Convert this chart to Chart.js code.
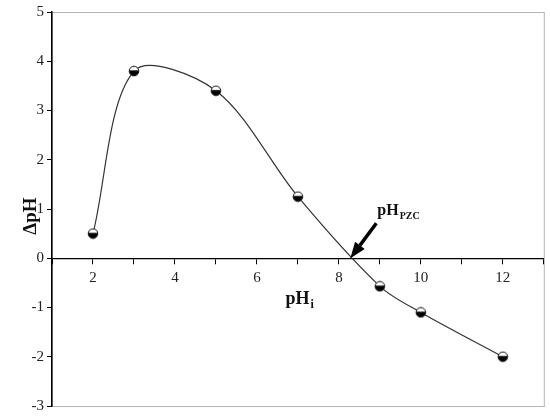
<!DOCTYPE html>
<html>
<head>
<meta charset="utf-8">
<script src="https://cdn.jsdelivr.net/npm/chart.js@4"></script>
<style>
  html, body { margin: 0; padding: 0; background: #fff; }
  #wrap { width: 550px; height: 418px; position: relative; }
</style>
</head>
<body>
<div id="wrap"><canvas id="chart" width="550" height="418"></canvas></div>
<script>
/* initial pH vs delta pH (point of zero charge plot) */
const phInitial = [2, 3, 5, 7, 9, 10, 12];
const deltaPh = [0.5, 3.8, 3.4, 1.25, -0.57, -1.1, -2.0];
const xTicks = [2, 4, 6, 8, 10, 12];
const yTicks = [-3, -2, -1, 0, 1, 2, 3, 4, 5];
const pzcValue = 8.28;

const FONT = "'Liberation Serif', 'Times New Roman', serif";

// half-filled marker (white top, black bottom)
function makeMarker() {
  const c = document.createElement('canvas');
  c.width = 12; c.height = 12;
  const g = c.getContext('2d');
  const r = 4.8, cx = 6, cy = 6;
  g.beginPath(); g.arc(cx, cy, r, 0, Math.PI * 2); g.fillStyle = '#fff'; g.fill();
  g.beginPath(); g.arc(cx, cy, r, -0.15, Math.PI + 0.15); g.closePath(); g.fillStyle = '#000'; g.fill();
  g.beginPath(); g.arc(cx, cy, r, 0, Math.PI * 2); g.lineWidth = 1; g.strokeStyle = '#111'; g.stroke();
  return c;
}

// frame + axis titles + pzc arrow
const decorPlugin = {
  id: 'decor',
  beforeDraw(chart) {
    const { ctx, chartArea: a } = chart;
    ctx.save();
    ctx.strokeStyle = '#b4b4b4';
    ctx.lineWidth = 1;
    ctx.strokeRect(a.left + 0.5, a.top + 0.5, a.right - a.left, a.bottom - a.top);
    ctx.restore();
  },
  afterDraw(chart) {
    const { ctx, scales } = chart;
    ctx.save();
    ctx.fillStyle = '#111';
    // y title
    ctx.translate(31, 216);
    ctx.rotate(-Math.PI / 2);
    ctx.font = `bold 19px ${FONT}`;
    ctx.textAlign = 'center';
    ctx.textBaseline = 'middle';
    ctx.fillText('ΔpH', 0, 0);
    ctx.restore();

    // x title pH_i
    ctx.save();
    ctx.fillStyle = '#111';
    ctx.textBaseline = 'alphabetic';
    ctx.font = `bold 18px ${FONT}`;
    const w = ctx.measureText('pH').width;
    const x0 = 300 - (w + 5) / 2;
    ctx.fillText('pH', x0, 304);
    ctx.font = `bold 12px ${FONT}`;
    ctx.fillText('i', x0 + w + 1, 308);

    // pzc label and arrow
    const tipX = scales.x.getPixelForValue(pzcValue);
    const tipY = scales.y.getPixelForValue(0);
    const tailX = tipX + 26, tailY = tipY - 35;
    ctx.font = `bold 16px ${FONT}`;
    ctx.fillText('pH', tipX + 27, tipY - 43);
    const w2 = ctx.measureText('pH').width;
    ctx.font = `bold 10px ${FONT}`;
    ctx.fillText('PZC', tipX + 27 + w2 + 1, tipY - 39);

    const ang = Math.atan2(tipY - tailY, tipX - tailX);
    const headLen = 16, headW = 6;
    const bx = tipX - headLen * Math.cos(ang), by = tipY - headLen * Math.sin(ang);
    ctx.strokeStyle = '#000';
    ctx.lineWidth = 3.5;
    ctx.beginPath(); ctx.moveTo(tailX, tailY); ctx.lineTo(bx, by); ctx.stroke();
    ctx.fillStyle = '#000';
    ctx.beginPath();
    ctx.moveTo(tipX, tipY);
    ctx.lineTo(bx + headW * Math.sin(ang), by - headW * Math.cos(ang));
    ctx.lineTo(bx - headW * Math.sin(ang), by + headW * Math.cos(ang));
    ctx.closePath(); ctx.fill();
    ctx.restore();
  }
};

document.addEventListener('DOMContentLoaded', () => {
  const marker = makeMarker();
  const ctx = document.getElementById('chart').getContext('2d');

  new Chart(ctx, {
    type: 'scatter',
    data: {
      datasets: [{
        data: phInitial.map((x, i) => ({ x, y: deltaPh[i] })),
        showLine: true,
        tension: 0.32,
        borderColor: '#333',
        borderWidth: 1.2,
        pointStyle: marker,
        pointRadius: 5
      }]
    },
    options: {
      responsive: false,
      animation: false,
      layout: { padding: { top: 10, right: 5, bottom: 10, left: 0 } },
      plugins: { legend: { display: false }, tooltip: { enabled: false } },
      scales: {
        x: {
          type: 'linear',
          min: 1, max: 13,
          position: { y: 0 },
          border: { color: '#000', width: 1.3 },
          grid: { drawOnChartArea: false, drawTicks: true, tickLength: 5, color: '#000' },
          ticks: {
            stepSize: 1,
            autoSkip: false,
            maxRotation: 0,
            padding: 6,
            color: '#222',
            font: { family: FONT, size: 15 },
            callback: v => xTicks.includes(v) ? String(v) : ''
          }
        },
        y: {
          min: -3, max: 5,
          border: { color: '#000', width: 1.5 },
          grid: { drawOnChartArea: false, drawTicks: true, tickLength: 5, color: '#000' },
          ticks: {
            stepSize: 1,
            padding: 3,
            color: '#222',
            font: { family: FONT, size: 15 },
            callback: v => yTicks.includes(v) ? String(v) : ''
          },
          afterFit: s => { s.width = 52; }
        }
      }
    },
    plugins: [decorPlugin]
  });
});
</script>
</body>
</html>
